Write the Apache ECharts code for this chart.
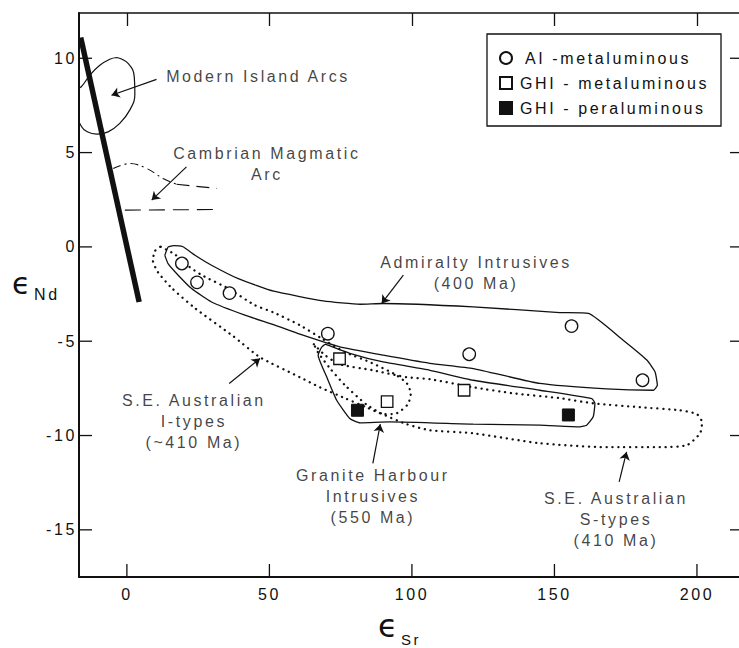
<!DOCTYPE html>
<html>
<head>
<meta charset="utf-8">
<script src="https://cdn.jsdelivr.net/npm/echarts@6/dist/echarts.min.js"></script>
<style>
  html, body { margin: 0; padding: 0; background: #fff; }
  #chart { width: 739px; height: 648px; }
  #chart text { letter-spacing: 2.6px; }
</style>
</head>
<body>
<div id="chart"></div>
<script>
// ---- tick values ----
const xTickValues = [0, 50, 100, 150, 200];
const yTickValues = [-15, -10, -5, 0, 5, 10];

// ---- sample data (eSr, eNd) ----
const aiMetaluminous = [[19.3, -0.88], [24.6, -1.88], [36.0, -2.45], [70.5, -4.6], [120.1, -5.69], [156.0, -4.2], [180.9, -7.07]];
const ghiMetaluminous = [[74.6, -5.93], [91.3, -8.2], [118.3, -7.6]];
const ghiPeraluminous = [[80.9, -8.66], [154.9, -8.91]];

// ---- fields / outlines ----
const mixingLine = [[-16.2, 11.1], [4.3, -2.92]];
const islandArcs = [[-3.6, 10.04], [0.5, 9.72], [2.6, 9.0], [2.8, 8.1], [1.0, 7.25], [-2.5, 6.55], [-6.6, 6.1], [-10.6, 5.98], [-13.9, 6.1], [-16.0, 6.4], [-17.8, 7.2], [-17.8, 8.4], [-16.1, 8.48], [-13.0, 9.1], [-9.5, 9.63], [-6.0, 9.95], [-3.6, 10.04]];
const cambrianCurve = [[-4.8, 4.16], [1.05, 4.42], [6.9, 4.16], [12.7, 3.63], [17.4, 3.32]];
const cambrianUpper = [[17.4, 3.32], [31.5, 3.1]];
const cambrianLower = [[-0.7, 1.95], [30.9, 1.98]];
const admiralty = [[13.3, -0.45], [14.5, 0.0], [16.5, 0.07], [19.5, 0.02], [23.9, -0.44], [29.7, -0.97], [39.3, -1.7], [51.5, -2.35], [68.9, -2.86], [81.8, -3.04], [89.9, -3.0], [121.5, -3.18], [151.9, -3.48], [161.9, -3.53], [174.1, -4.95], [182.4, -6.0], [185.3, -6.63], [186.1, -7.33], [184.7, -7.6], [168.3, -7.53], [144.9, -7.24], [121.5, -6.45], [106.3, -6.17], [89.9, -5.74], [74.7, -5.3], [60.7, -4.63], [51.9, -4.15], [41.4, -3.62], [29.7, -2.92], [22.7, -2.21], [18.0, -1.5], [14.5, -0.9], [13.3, -0.45]];
const graniteHarbour = [[69.5, -5.16], [78.2, -5.64], [89.9, -6.1], [106.3, -6.54], [121.5, -7.07], [144.9, -7.6], [163.1, -8.04], [164.2, -8.3], [163.6, -9.01], [161.3, -9.45], [158.9, -9.54], [144.9, -9.45], [121.5, -9.4], [92.3, -9.28], [81.8, -9.33], [78.2, -9.1], [73.6, -8.13], [70.1, -6.89], [67.1, -5.74], [68.3, -5.32], [69.5, -5.16]];
const iTypes = [[11.9, 0.01], [16.8, -0.39], [20.7, -0.92], [26.3, -1.5], [35.4, -2.19], [44.9, -3.09], [51.2, -3.46], [60.7, -4.15], [68.8, -4.9], [76.5, -5.58], [85.3, -6.11], [94.0, -6.75], [98.2, -7.23], [99.6, -7.76], [98.6, -8.34], [94.7, -8.82], [90.2, -8.87], [83.9, -8.49], [76.5, -8.02], [67.7, -7.44], [60.7, -6.91], [46.7, -5.85], [37.2, -4.72], [23.9, -3.25], [15.8, -2.19], [10.9, -1.34], [9.1, -0.71], [9.8, -0.23], [11.2, -0.02], [11.9, 0.01]];
const sTypes = [[65.6, -5.16], [69.5, -5.74], [74.7, -6.22], [86.3, -6.54], [98.2, -6.91], [106.3, -7.01], [121.4, -7.44], [135.4, -7.76], [151.9, -8.02], [163.5, -8.29], [180.0, -8.5], [194.0, -8.66], [200.0, -8.87], [201.8, -9.3], [201.1, -9.88], [196.5, -10.51], [187.0, -10.62], [168.4, -10.62], [144.9, -10.41], [121.4, -9.88], [106.3, -9.72], [98.2, -9.4], [89.8, -8.87], [83.9, -8.34], [76.5, -7.33], [71.2, -6.43], [67.0, -5.58], [65.6, -5.16]];

// ---- annotation texts and arrows ----
const annotationNames = ['Modern Island Arcs', 'Cambrian Magmatic\nArc', 'Admiralty Intrusives\n(400 Ma)', 'S.E. Australian\nI-types\n(~410 Ma)', 'Granite Harbour\nIntrusives\n(550 Ma)', 'S.E. Australian\nS-types\n(410 Ma)'];
const annotationAnchors = [[46.0, 9.05], [49.1, 4.41], [122.5, -1.37], [23.5, -9.27], [86.3, -13.21], [171.6, -14.44]];
const arrowSegments = [
  [[10.4, 8.88], [-5.4, 8.04]],
  [[20.9, 4.24], [8.7, 2.48]],
  [[97.0, -1.5], [89.4, -3.0]],
  [[35.9, -7.24], [46.7, -5.92]],
  [[86.3, -11.48], [88.9, -9.4]],
  [[172.7, -12.46], [175.3, -10.87]]
];

const seriesNames = ['AI -metaluminous', 'GHI - metaluminous', 'GHI - peraluminous'];

const FONT = "'Liberation Sans', Arial, Helvetica, sans-serif";
const BLACK = '#111';

function outline(data, style, smooth) {
  return {
    type: 'line', data: data, symbol: 'none', smooth: smooth || 0,
    lineStyle: Object.assign({ color: BLACK, width: 1.3 }, style),
    silent: true, clip: true, z: 3
  };
}
const dotted = { type: [0.1, 5.8], cap: 'round', width: 2.3 };

const chart = echarts.init(document.getElementById('chart'), null, { renderer: 'svg' });

const X_MIN = -16.8, X_MAX = 214.75, Y_MIN = -17.5, Y_MAX = 12.4;
const GRID = { left: 79, top: 13, right: 0, bottom: 71 };
const CHART_W = 739, CHART_H = 648;
// pixel-per-unit of the grid, used to express tick lengths in axis units
const PX_PER_X = (CHART_W - GRID.left - GRID.right) / (X_MAX - X_MIN);
const PX_PER_Y = (CHART_H - GRID.top - GRID.bottom) / (Y_MAX - Y_MIN);

function xAxisDef(position, lineWidth, tickLen, labels, lineColor) {
  return {
    type: 'value', position: position, min: X_MIN, max: X_MAX,
    splitLine: { show: false },
    axisLine: { show: true, onZero: false, lineStyle: { color: lineColor || BLACK, width: lineWidth } },
    axisTick: tickLen ? { show: true, inside: true, length: tickLen, customValues: xTickValues, lineStyle: { color: BLACK, width: 1.3 } } : { show: false },
    axisLabel: labels ? { show: true, customValues: xTickValues, margin: 9, fontSize: 16, color: BLACK, fontFamily: FONT } : { show: false }
  };
}
function yAxisDef(position, lineWidth, tickLen, labels, lineColor) {
  return {
    type: 'value', position: position, min: Y_MIN, max: Y_MAX,
    splitLine: { show: false },
    axisLine: { show: true, onZero: false, lineStyle: { color: lineColor || BLACK, width: lineWidth } },
    axisTick: tickLen ? { show: true, inside: true, length: tickLen, customValues: yTickValues, lineStyle: { color: BLACK, width: 1.3 } } : { show: false },
    axisLabel: labels ? { show: true, customValues: yTickValues, margin: 2, fontSize: 16, color: BLACK, fontFamily: FONT } : { show: false }
  };
}

// inward tick marks as short line series, placed via the axes' own scale
function tickLine(p1, p2) {
  return {
    type: 'line', data: [p1, p2], symbol: 'none', silent: true, clip: false, z: 5,
    lineStyle: { color: BLACK, width: 1.3 }
  };
}
const tickSeriesList = [];
xTickValues.forEach(v => tickSeriesList.push(tickLine([v, Y_MIN], [v, Y_MIN + 13 / PX_PER_Y])));
yTickValues.forEach(v => tickSeriesList.push(tickLine([X_MIN, v], [X_MIN + 13 / PX_PER_X, v])));
yTickValues.forEach(v => tickSeriesList.push(tickLine([X_MAX - 9 / PX_PER_X, v], [X_MAX, v])));

const option = {
  backgroundColor: '#fff',
  animation: false,
  textStyle: { fontFamily: FONT, color: BLACK },
  grid: GRID,
  xAxis: [
    xAxisDef('bottom', 2, 0, true),
    xAxisDef('top', 1.6, 13, false)
  ],
  yAxis: [
    yAxisDef('left', 2, 0, true),
    yAxisDef('right', 1, 0, false, 'rgba(0,0,0,0)')
  ],
  legend: {
    orient: 'vertical', left: 494, top: 45,
    itemWidth: 12, itemHeight: 12, itemGap: 9,
    textStyle: { fontSize: 16, lineHeight: 16, color: BLACK, fontFamily: FONT, padding: [0, 0, 0, 3] },
    data: [
      { name: seriesNames[0], textStyle: { padding: [0, 0, 0, 8] } },
      { name: seriesNames[1] },
      { name: seriesNames[2] }
    ],
    selectedMode: false
  },
  graphic: [
    { type: 'rect', shape: { x: 487, y: 34, width: 234, height: 92 }, style: { fill: 'none', stroke: BLACK, lineWidth: 1.3 }, z: 10 },
    { type: 'text', style: { x: 12, y: 283, text: 'ϵ', font: "30px 'DejaVu Sans', sans-serif", fill: BLACK, verticalAlign: 'middle' }, z: 10 },
    { type: 'text', style: { x: 34, y: 294.5, text: 'Nd', font: "16px " + FONT, fill: BLACK, verticalAlign: 'middle' }, z: 10 },
    { type: 'text', style: { x: 378, y: 626, text: 'ϵ', font: "32px 'DejaVu Sans', sans-serif", fill: BLACK, verticalAlign: 'middle' }, z: 10 },
    { type: 'text', style: { x: 401, y: 639.5, text: 'Sr', font: "15px " + FONT, fill: BLACK, verticalAlign: 'middle' }, z: 10 }
  ],
  series: [
    outline(mixingLine, { width: 5.5 }),
    outline(islandArcs, { width: 1.2 }, 0.45),
    outline(cambrianCurve, { width: 1.1, type: [8, 4, 2, 4] }, 0.4),
    outline(cambrianUpper, { width: 1.1, type: [13, 7] }),
    outline(cambrianLower, { width: 1.1, type: [16, 8] }),
    outline(admiralty, { width: 1.3 }, 0.15),
    outline(graniteHarbour, { width: 1.3 }, 0.15),
    outline(iTypes, dotted, 0.2),
    outline(sTypes, dotted, 0.2)
  ].concat(tickSeriesList).concat([
    {
      type: 'lines', coordinateSystem: 'cartesian2d', silent: true, z: 4,
      symbol: ['none', 'arrow'], symbolSize: 8,
      lineStyle: { color: BLACK, width: 1.2, opacity: 1, curveness: 0 },
      data: arrowSegments.map(s => ({ coords: s }))
    },
    {
      type: 'scatter', silent: true, symbolSize: 0, z: 6,
      data: annotationNames.map((n, i) => ({ name: n, value: annotationAnchors[i] })),
      label: {
        show: true, position: 'inside', formatter: '{b}', color: BLACK,
        fontSize: 16, lineHeight: 21, fontFamily: FONT, align: 'center', verticalAlign: 'middle'
      }
    },
    {
      name: seriesNames[0], type: 'scatter', symbol: 'circle', symbolSize: 12.5, z: 8,
      itemStyle: { color: '#fff', borderColor: BLACK, borderWidth: 1.3, opacity: 1 },
      data: aiMetaluminous
    },
    {
      name: seriesNames[1], type: 'scatter', symbol: 'rect', symbolSize: 11.5, z: 8,
      itemStyle: { color: '#fff', borderColor: BLACK, borderWidth: 1.3, opacity: 1 },
      data: ghiMetaluminous
    },
    {
      name: seriesNames[2], type: 'scatter', symbol: 'rect', symbolSize: 12, z: 8,
      itemStyle: { color: BLACK, borderColor: BLACK, borderWidth: 1, opacity: 1 },
      data: ghiPeraluminous
    }
  ])
};
chart.setOption(option);
</script>
</body>
</html>
